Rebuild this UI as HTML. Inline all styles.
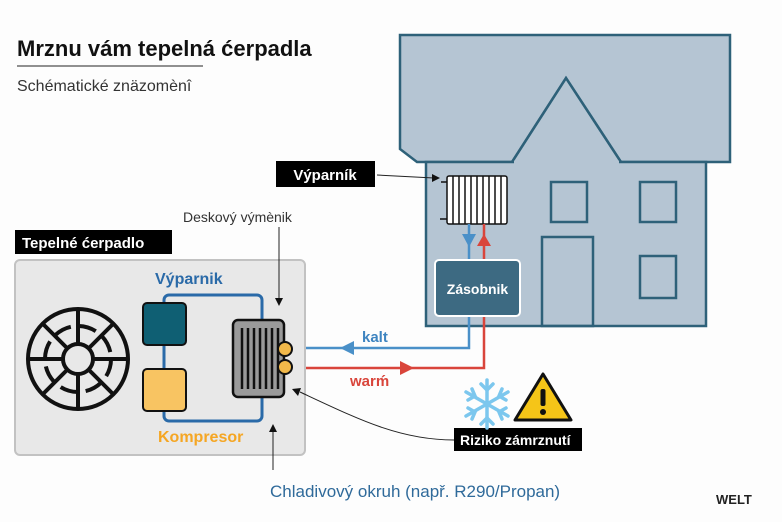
<!DOCTYPE html>
<html><head><meta charset="utf-8"><style>
html,body{margin:0;padding:0;background:#fff;}
svg{display:block;font-family:"Liberation Sans","DejaVu Sans",sans-serif;}
</style></head><body>
<svg width="782" height="522" viewBox="0 0 782 522" xmlns="http://www.w3.org/2000/svg">
<rect width="782" height="522" fill="#fdfdfd"/>
<text x="17" y="56" font-size="22" font-weight="bold" fill="#111">Mrznu vám tepelná ćerpadla</text>
<line x1="17" y1="66" x2="203" y2="66" stroke="#222" stroke-width="1"/>
<text x="17" y="91" font-size="16" fill="#333">Schématické znäzomènî</text>

<!-- house -->
<polygon points="510,164 566,78 623,164" fill="#b5c5d3"/>
<polygon points="400,35 730,35 730,162 621,162 566,78 512,162 417,162 400,149" fill="#b5c5d3" stroke="#2e6179" stroke-width="2.5"/>
<rect x="426" y="162" width="280" height="164" fill="#b5c5d3" stroke="#2e6179" stroke-width="2.5"/>
<line x1="514" y1="162" x2="619" y2="162" stroke="#b5c5d3" stroke-width="4"/>
<polyline points="512,162 566,78 621,162" fill="none" stroke="#2e6179" stroke-width="2.5"/>
<rect x="551" y="182" width="36" height="40" fill="none" stroke="#2e6179" stroke-width="2.5"/>
<rect x="640" y="182" width="36" height="40" fill="none" stroke="#2e6179" stroke-width="2.5"/>
<rect x="640" y="256" width="36" height="42" fill="none" stroke="#2e6179" stroke-width="2.5"/>
<rect x="542" y="237" width="51" height="89" fill="none" stroke="#2e6179" stroke-width="2.5"/>

<!-- radiator -->
<rect x="447" y="176" width="60" height="48" rx="2" fill="#fff" stroke="#111" stroke-width="1.5"/>
<g stroke="#111" stroke-width="1.5">
<line x1="453" y1="176" x2="453" y2="224"/><line x1="459" y1="176" x2="459" y2="224"/>
<line x1="465" y1="176" x2="465" y2="224"/><line x1="471" y1="176" x2="471" y2="224"/>
<line x1="477" y1="176" x2="477" y2="224"/><line x1="483" y1="176" x2="483" y2="224"/>
<line x1="489" y1="176" x2="489" y2="224"/><line x1="495" y1="176" x2="495" y2="224"/>
<line x1="501" y1="176" x2="501" y2="224"/>
<line x1="440" y1="219" x2="447" y2="219"/><line x1="441" y1="182" x2="447" y2="182"/>
</g>

<!-- pipes -->
<polyline points="469,224 469,348 290,348" fill="none" stroke="#4a90c8" stroke-width="2.5"/>
<polyline points="484,224 484,368 290,368" fill="none" stroke="#d9453b" stroke-width="2.5"/>
<polygon points="462,234 476,234 469,247" fill="#4a90c8"/>
<polygon points="477,246 491,246 484,234" fill="#d9453b"/>
<polygon points="340,348 354,341 354,355" fill="#4a90c8"/>
<polygon points="414,368 400,361 400,375" fill="#d9453b"/>
<text x="362" y="342" font-size="15" font-weight="bold" fill="#3e84c0">kalt</text>
<text x="350" y="386" font-size="15" font-weight="bold" fill="#d9453b">warḿ</text>

<rect x="435" y="260" width="85" height="56" rx="4" fill="#3d6a82" stroke="#fff" stroke-width="2"/>
<text x="477.5" y="294" font-size="14" font-weight="bold" fill="#fff" text-anchor="middle">Zásobnik</text>

<!-- Výparník label -->
<rect x="276" y="161" width="99" height="26" fill="#000"/>
<text x="325" y="180" font-size="15" font-weight="bold" fill="#fff" text-anchor="middle">Výparník</text>
<line x1="377" y1="175" x2="434" y2="178" stroke="#222" stroke-width="1"/>
<polygon points="440,178 432,174 432,182" fill="#111"/>

<!-- unit -->
<rect x="15" y="260" width="290" height="195" rx="5" fill="#e8e8e8" stroke="#c2c2c2" stroke-width="2"/>
<rect x="15" y="230" width="157" height="24" fill="#000"/>
<text x="22" y="248" font-size="15" font-weight="bold" fill="#fff">Tepelné ćerpadlo</text>
<text x="183" y="222" font-size="14" fill="#333">Deskový výmènik</text>
<line x1="279" y1="227" x2="279" y2="300" stroke="#222" stroke-width="1"/>
<polygon points="279,306 275,298 283,298" fill="#111"/>

<!-- fan -->
<g fill="none" stroke="#111" stroke-width="4">
<circle cx="78" cy="359" r="50"/>
<circle cx="78" cy="359" r="15"/>
<circle cx="78" cy="359" r="33" stroke-dasharray="18 8"/>
<line x1="78" y1="309" x2="78" y2="344"/><line x1="78" y1="374" x2="78" y2="409"/>
<line x1="28" y1="359" x2="63" y2="359"/><line x1="93" y1="359" x2="128" y2="359"/>
<line x1="43" y1="324" x2="67" y2="348"/><line x1="89" y1="370" x2="113" y2="394"/>
<line x1="113" y1="324" x2="89" y2="348"/><line x1="67" y1="370" x2="43" y2="394"/>
</g>

<text x="155" y="284" font-size="16" font-weight="bold" fill="#2a6aa8">Výparnik</text>
<rect x="164" y="295" width="98" height="126" rx="5" fill="none" stroke="#2a6aa8" stroke-width="3"/>
<rect x="143" y="303" width="43" height="42" rx="4" fill="#0f5f73" stroke="#111" stroke-width="2"/>
<rect x="143" y="369" width="43" height="42" rx="4" fill="#f8c462" stroke="#111" stroke-width="2"/>
<text x="158" y="442" font-size="16" font-weight="bold" fill="#f5a623">Kompresor</text>

<rect x="233" y="320" width="51" height="77" rx="5" fill="#9a9a9a" stroke="#111" stroke-width="2.5"/>
<g stroke="#111" stroke-width="2.5">
<line x1="242" y1="328" x2="242" y2="389"/><line x1="248" y1="328" x2="248" y2="389"/>
<line x1="254" y1="328" x2="254" y2="389"/><line x1="260" y1="328" x2="260" y2="389"/>
<line x1="266" y1="328" x2="266" y2="389"/><line x1="272" y1="328" x2="272" y2="389"/>
<line x1="278" y1="328" x2="278" y2="389"/>
</g>
<circle cx="285" cy="349" r="7" fill="#f2b94a" stroke="#111" stroke-width="2"/>
<circle cx="285" cy="367" r="7" fill="#f2b94a" stroke="#111" stroke-width="2"/>

<!-- bottom pointer -->
<line x1="273" y1="470" x2="273" y2="430" stroke="#222" stroke-width="1"/>
<polygon points="273,424 269,432 277,432" fill="#111"/>
<text x="270" y="497" font-size="17" fill="#2f6a9a">Chladivový okruh (např. R290/Propan)</text>

<!-- risk pointer -->
<path d="M454,440 C400,440 360,420 300,392" fill="none" stroke="#222" stroke-width="1"/>
<polygon points="292,389 301,388 298,396" fill="#111"/>
<rect x="454" y="428" width="128" height="23" fill="#000"/>
<text x="460" y="445" font-size="14" font-weight="bold" fill="#fff">Riziko zámrznutí</text>

<!-- snowflake -->
<g stroke="#7cc7ee" stroke-width="3.5" stroke-linecap="round" fill="none">
<line x1="487" y1="380" x2="487" y2="428"/>
<line x1="466" y1="392" x2="508" y2="416"/>
<line x1="466" y1="416" x2="508" y2="392"/>
<polyline points="481,384 487,390 493,384"/><polyline points="481,424 487,418 493,424"/>
<polyline points="468,400 475,396 472,389"/><polyline points="506,408 499,412 502,419"/>
<polyline points="468,408 475,412 472,419"/><polyline points="506,400 499,396 502,389"/>
</g>
<!-- warning -->
<path d="M543,374 L571,420 L515,420 Z" fill="#f5c518" stroke="#111" stroke-width="3" stroke-linejoin="round"/>
<rect x="540.5" y="389" width="5" height="17" rx="2" fill="#111"/>
<circle cx="543" cy="412" r="3" fill="#111"/>

<text x="716" y="504" font-size="13" font-weight="bold" fill="#222">WELT</text>
</svg>
</body></html>
